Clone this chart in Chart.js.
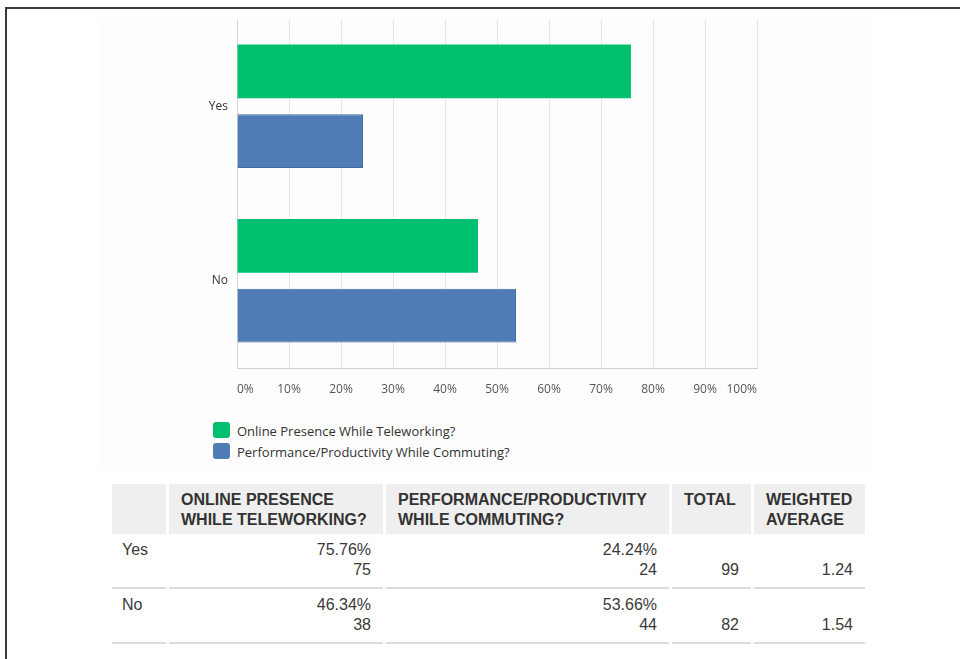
<!DOCTYPE html>
<html>
<head>
<meta charset="utf-8">
<script src="https://cdn.jsdelivr.net/npm/chart.js@4/dist/chart.umd.min.js"></script>
<style>
  html, body { margin: 0; padding: 0; background: #fff; }
  body { width: 960px; height: 659px; position: relative; overflow: hidden; }
  .frame {
    position: absolute; left: 5px; top: 7px; width: 1000px; height: 700px;
    border-top: 2px solid #3a3a3a; border-left: 2px solid #3a3a3a;
  }
  .panel { position: absolute; left: 100px; top: 20px; width: 770px; height: 450px; background: #fdfdfd; }
  #grafico { position: absolute; left: 100px; top: 14px; }
  .legenda { position: absolute; left: 213px; top: 422px; font: 13px "Open Sans", sans-serif; color: #333; }
  .legenda div { height: 21px; line-height: 18px; position: relative; padding-left: 24px; white-space: nowrap; }
  .legenda span { position: absolute; left: 0; top: 0; width: 17px; height: 16px; border-radius: 3px; }
  table {
    position: absolute; left: 109px; top: 484px;
    border-collapse: separate; border-spacing: 3px 0; table-layout: fixed;
    font: 16px "Liberation Sans", Arial, sans-serif; color: #3a3a3a;
  }
  th, td { box-sizing: border-box; line-height: 20px; }
  th {
    background: #efefef; text-align: left; font-weight: bold; color: #333;
    padding: 6px 12px 4px; vertical-align: top;
  }
  td { padding: 6px 12px 7px; border-bottom: 2px solid #dcdcdc; text-align: right; vertical-align: top; }
  td.cat { text-align: left; padding-left: 10px; }
</style>
</head>
<body>
<div class="frame"></div>
<div class="panel"></div>
<canvas id="grafico" width="770" height="390"></canvas>
<div class="legenda" id="legenda"></div>
<table id="tabela">
  <colgroup>
    <col style="width:54px"><col style="width:214px"><col style="width:283px"><col style="width:79px"><col style="width:111px">
  </colgroup>
  <thead>
    <tr>
      <th></th>
      <th>ONLINE PRESENCE<br>WHILE TELEWORKING?</th>
      <th>PERFORMANCE/PRODUCTIVITY<br>WHILE COMMUTING?</th>
      <th>TOTAL</th>
      <th>WEIGHTED<br>AVERAGE</th>
    </tr>
  </thead>
  <tbody></tbody>
</table>
<script>
const categorias = ["Yes", "No"];
const nomesSeries = ["Online Presence While Teleworking?", "Performance/Productivity While Commuting?"];
const onlinePct = [75.76, 46.34];
const onlineQtd = [75, 38];
const performancePct = [24.24, 53.66];
const performanceQtd = [24, 44];
const totais = [99, 82];
const mediaPonderada = [1.24, 1.54];

const cores = ["#00bf6f", "#507cb6"];
const bordas = ["#00bf6f", "#3e6aa2"];

const fonteGrafico = "'Open Sans', sans-serif";

new Chart(document.getElementById("grafico"), {
  type: "bar",
  data: {
    labels: categorias,
    datasets: [
      {
        label: nomesSeries[0],
        data: onlinePct,
        backgroundColor: cores[0],
        borderColor: bordas[0],
        borderWidth: 0,
        categoryPercentage: 0.8,
        barPercentage: 0.77,
      },
      {
        label: nomesSeries[1],
        data: performancePct,
        backgroundColor: cores[1],
        borderColor: bordas[1],
        borderWidth: 1,
        categoryPercentage: 0.8,
        barPercentage: 0.77,
      },
    ],
  },
  options: {
    indexAxis: "y",
    responsive: false,
    animation: false,
    layout: { padding: { top: 5, right: 113, bottom: 6, left: 0 } },
    plugins: { legend: { display: false }, tooltip: { enabled: false } },
    scales: {
      x: {
        min: 0,
        max: 100,
        ticks: {
          stepSize: 10,
          align: "inner",
          padding: 14,
          color: "#555",
          font: { family: fonteGrafico, size: 12 },
          callback: (v) => v + "%",
        },
        grid: { color: "#e6e6e6", drawTicks: false },
        border: { color: "#d0d0d0", width: 1 },
        afterFit: (s) => { s.height = 30; },
      },
      y: {
        ticks: { padding: 9, color: "#333", font: { family: fonteGrafico, size: 12 } },
        grid: { drawOnChartArea: false, drawTicks: false },
        border: { color: "#d6d6d6", width: 1 },
        afterFit: (s) => {
          s.width = 137;
          s.paddingTop = 0;
          s.paddingBottom = 0;
        },
      },
    },
  },
});

// legenda em html, uma linha por serie
const legenda = document.getElementById("legenda");
nomesSeries.forEach((nome, i) => {
  const item = document.createElement("div");
  item.innerHTML = `<span style="background:${cores[i]}"></span>${nome}`;
  legenda.appendChild(item);
});

// linhas da tabela de respostas
const corpo = document.querySelector("#tabela tbody");
categorias.forEach((cat, i) => {
  const tr = document.createElement("tr");
  tr.innerHTML = `
    <td class="cat">${cat}</td>
    <td>${onlinePct[i].toFixed(2)}%<br>${onlineQtd[i]}</td>
    <td>${performancePct[i].toFixed(2)}%<br>${performanceQtd[i]}</td>
    <td>&nbsp;<br>${totais[i]}</td>
    <td>&nbsp;<br>${mediaPonderada[i].toFixed(2)}</td>
  `;
  corpo.appendChild(tr);
});
</script>
</body>
</html>
